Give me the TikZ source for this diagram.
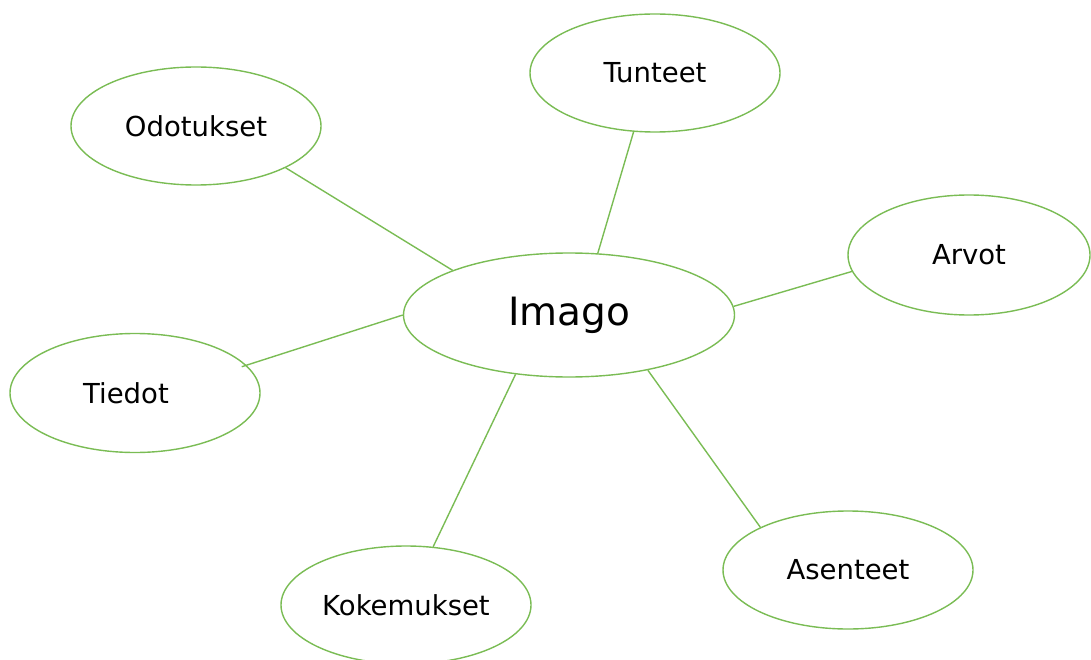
\documentclass[tikz,border=0pt]{standalone}
\usepackage{fontspec}
\setmainfont{DejaVu Sans}
\usetikzlibrary{shapes.geometric}
\definecolor{leaf}{RGB}{122,188,84}
\begin{document}
\begin{tikzpicture}[x=1pt,y=-1pt,
  bubble/.style={ellipse, draw=leaf, line width=1.4pt, fill=white,
    minimum width=250pt, minimum height=118pt, inner sep=0pt,
    font=\fontsize{27.5}{30}\selectfont},
  lbl/.style={font=\fontsize{27.5}{30}\selectfont, inner sep=0pt},
  link/.style={draw=leaf, line width=1.4pt}]
\useasboundingbox (0,0) rectangle (1091,660);
\clip (0,0) rectangle (1091,660);

% centre and satellites
\node[bubble, minimum width=331pt, minimum height=124pt,
      font=\fontsize{39}{42}\selectfont] (imago) at (569,315) {Imago};
\node[bubble] (odotukset) at (196,126) {Odotukset};
\node[bubble] (tunteet) at (655,73) {Tunteet};
\node[bubble, minimum width=242pt, minimum height=120pt] (arvot) at (969,255) {Arvot};
\node[bubble, minimum height=119pt,
      label={[lbl, xshift=-9pt]center:Tiedot}] (tiedot) at (135,393) {};
\node[bubble] (kokemukset) at (406,605) {Kokemukset};
\node[bubble] (asenteet) at (848,570) {Asenteet};

% spokes
\draw[link] (imago.159) -- (odotukset.335);
\draw[link] (imago.65) -- (tunteet.250);
\draw[link] (imago.3) -- (arvot.188);
\draw[link, shorten >=-5pt] (imago.180) -- (tiedot.14);
\draw[link] (imago.228) -- (kokemukset.65);
\draw[link] (imago.325) -- (asenteet.154);
\end{tikzpicture}
\end{document}
